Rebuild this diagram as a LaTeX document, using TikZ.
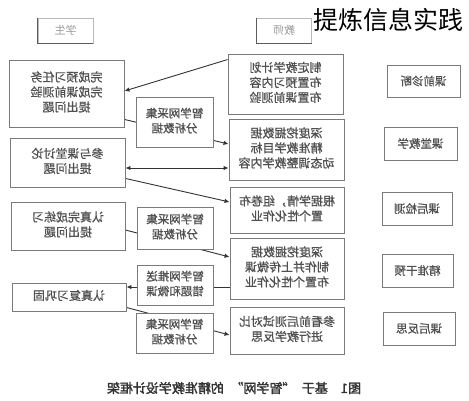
\documentclass[tikz,border=0pt]{standalone}
\usepackage{fontspec}
\setmainfont[AutoFakeBold=2]{Noto Sans CJK SC}
\newfontfamily\boxfont[FakeBold=0.7]{Noto Sans CJK SC}
\usepackage{graphicx}
\usetikzlibrary{arrows.meta}
\pgfdeclarelayer{bg}
\pgfsetlayers{bg,main}
\definecolor{boxgray}{HTML}{7A7A7A}
\definecolor{txtgray}{HTML}{505050}
\definecolor{linegray}{HTML}{333333}
\definecolor{lblgray}{HTML}{9A9A9A}
\definecolor{capcol}{HTML}{333333}
\newcommand\mirtext[1]{\reflectbox{\begin{tabular}{@{}c@{}}#1\end{tabular}}}
\tikzset{
  bx/.style={draw=boxgray, line width=0.9pt, fill=white, inner sep=0pt, text=txtgray,
    font=\boxfont\fontsize{12}{15}\selectfont},
  sm/.style={bx, font=\boxfont\fontsize{11.5}{15}\selectfont},
  lbl/.style={draw=lblgray!70, line width=0.8pt, fill=white, inner sep=0pt, text=lblgray,
    font=\fontsize{11}{13}\selectfont, minimum width=55pt, minimum height=25pt},
  conn/.style={draw=linegray, line width=0.9pt},
  arr/.style={conn, -{Latex[length=5pt,width=4.5pt]}},
  darr/.style={conn, {Latex[length=5pt,width=4.5pt]}-{Latex[length=5pt,width=4.5pt]}},
}
\begin{document}
\begin{tikzpicture}[x=1pt,y=-1pt]
\useasboundingbox (0,0) rectangle (469,400);
\begin{pgfonlayer}{bg}
\fill[white] (0,0) rectangle (469,400);
\end{pgfonlayer}

% top labels
\node[lbl] (L1) at (65.5,30.5) {\reflectbox{学生}};
\node[lbl] (L2) at (284,30.5) {\reflectbox{教师}};
\draw[linegray!80, line width=0.9pt] (L1.north west) -- (L1.south west) -- (L1.south east);
\draw[linegray!80, line width=0.9pt] (L2.north west) -- (L2.south west) -- (L2.south east);

% title
\node[font=\fontsize{25}{30}\selectfont, text=black, inner sep=0pt] (title) at (388,20) {提炼信息实践};

% student column
\node[bx, minimum width=115pt, minimum height=67pt] (S1) at (66.5,93.5) {\mirtext{完成预习任务\\完成课前测验\\提出问题}};
\node[bx, minimum width=115pt, minimum height=49pt] (S2) at (67.5,162.5) {\mirtext{参与课堂讨论\\提出问题}};
\node[bx, minimum width=114pt, minimum height=48pt] (S3) at (68,226) {\mirtext{认真完成练习\\提出问题}};
\node[bx, minimum width=114pt, minimum height=28pt] (S4) at (69,297) {\mirtext{认真复习巩固}};

% platform boxes
\node[sm, minimum width=77pt, minimum height=50pt] (M1) at (174.5,122) {\mirtext{智学网采集\\分析数据}};
\node[sm, minimum width=76pt, minimum height=42pt] (M2) at (175,228) {\mirtext{智学网采集\\分析数据}};
\node[sm, minimum width=76pt, minimum height=40pt] (M3) at (175,285) {\mirtext{智学网推送\\错题和微课}};
\node[sm, minimum width=77pt, minimum height=40pt] (M4) at (174.5,333) {\mirtext{智学网采集\\分析数据}};

% teacher column
\node[bx, minimum width=115pt, minimum height=60pt] (T1) at (285.5,84) {\mirtext{制定教学计划\\布置预习内容\\布置课前测验}};
\node[bx, minimum width=115pt, minimum height=61pt] (T2) at (286.5,149.5) {\mirtext{深度挖掘数据\\精准教学目标\\动态调整教学内容}};
\node[bx, minimum width=114pt, minimum height=46pt] (T3) at (287,210) {\mirtext{根据学情，组卷布\\置个性化作业}};
\node[bx, minimum width=114pt, minimum height=61pt] (T4) at (287,268.5) {\mirtext{深度挖掘数据\\制作并上传微课\\布置个性化作业}};
\node[bx, minimum width=114pt, minimum height=47pt] (T5) at (287,330.5) {\mirtext{参看前后测试对比\\进行教学反思}};

% stage column
\node[sm, minimum width=73pt, minimum height=32pt] (R1) at (423.5,81) {\reflectbox{课前诊断}};
\node[sm, minimum width=73pt, minimum height=33pt] (R2) at (420.5,143.5) {\reflectbox{课堂教学}};
\node[sm, minimum width=70pt, minimum height=33pt] (R3) at (417,208.5) {\reflectbox{课后检测}};
\node[sm, minimum width=71pt, minimum height=33pt] (R4) at (417.5,270.5) {\reflectbox{精准干预}};
\node[sm, minimum width=72pt, minimum height=33pt] (R5) at (419,328.5) {\reflectbox{课后反思}};

% caption
\node[font=\fontsize{13}{15}\selectfont\bfseries, text=capcol, inner sep=0pt] (cap) at (234,388) {\reflectbox{图1\quad 基于\enspace“智学网”\enspace 的精准教学设计框架}};

% connectors
\begin{pgfonlayer}{bg}
\draw[arr] ([yshift=-6pt]T1.north west) -- ([yshift=2.5pt]S1.east);
\draw[arr] ([yshift=8pt]S1.south east) -- ([yshift=5.5pt]T2.west);
\draw[darr] ([yshift=-5.5pt]S2.east) -- ([yshift=-5.5pt]S2.east -| T2.west);
\draw[arr] ([yshift=9pt]S2.south east) -- ([yshift=8pt]T3.west);
\draw[arr] ([yshift=-4pt]S3.east) -- ([yshift=11.5pt]T4.west);
\draw[arr] ([yshift=10pt]S4.east -| T4.west) -- ([yshift=10pt]S4.east);
\draw[arr] ([yshift=4pt]S4.south east) -- ([yshift=-4.5pt]T5.west);
\end{pgfonlayer}
\end{tikzpicture}
\end{document}
